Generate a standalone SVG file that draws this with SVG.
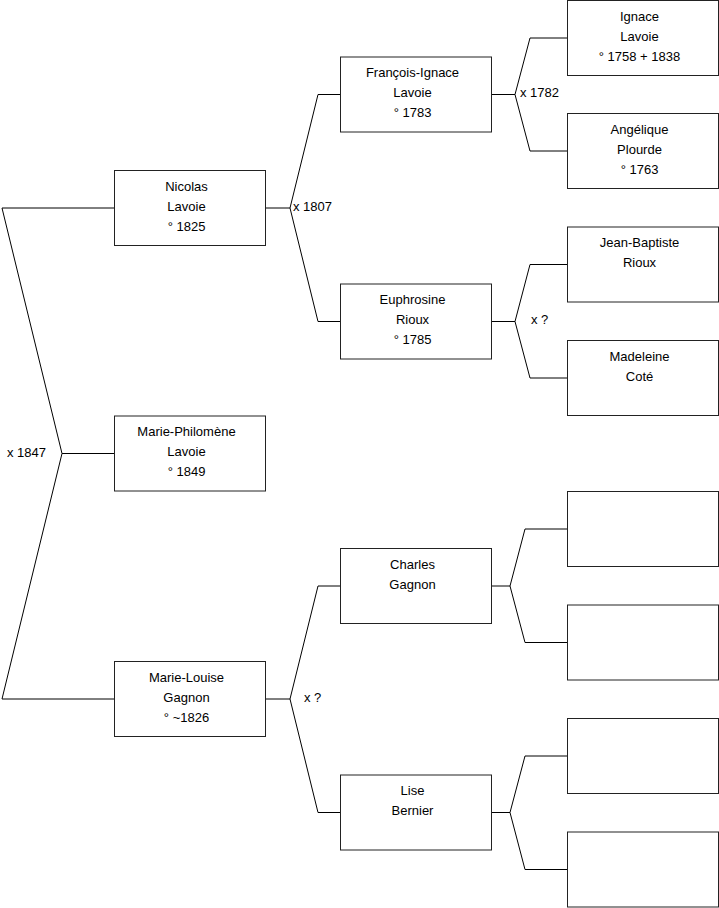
<svg xmlns="http://www.w3.org/2000/svg" width="719" height="908" viewBox="0 0 719 908">
<style>
.box{fill:#fff;stroke:#222;stroke-width:1}
.t{font-family:"Liberation Sans",Arial,sans-serif;font-size:13px;fill:#000;text-anchor:middle}
.l{font-family:"Liberation Sans",Arial,sans-serif;font-size:13px;fill:#000}
.c{fill:none;stroke:#000;stroke-width:1}
</style>
<rect width="719" height="908" fill="#fff"/>
<g id="connectors">
<polyline class="c" points="114.5,208 2,208 62,453.5 2,699 114.5,699"/>
<line class="c" x1="62" y1="453.5" x2="114.5" y2="453.5"/>
<line class="c" x1="265.5" y1="208" x2="290" y2="208"/>
<polyline class="c" points="340.5,94.5 318,94.5 290,208 318,321.5 340.5,321.5"/>
<line class="c" x1="265.5" y1="699" x2="290" y2="699"/>
<polyline class="c" points="340.5,586 318,586 290,699 318,812.5 340.5,812.5"/>
<line class="c" x1="491.5" y1="94.5" x2="515" y2="94.5"/>
<polyline class="c" points="567.5,38 530,38 515,94.5 530,151 567.5,151"/>
<line class="c" x1="491.5" y1="321.5" x2="515" y2="321.5"/>
<polyline class="c" points="567.5,264.5 530,264.5 515,321.5 530,378 567.5,378"/>
<line class="c" x1="491.5" y1="586" x2="510" y2="586"/>
<polyline class="c" points="567.5,529 525,529 510,586 525,642.5 567.5,642.5"/>
<line class="c" x1="491.5" y1="812.5" x2="510" y2="812.5"/>
<polyline class="c" points="567.5,756 525,756 510,812.5 525,869.5 567.5,869.5"/>
<text class="l" x="7" y="456.5">x 1847</text>
<text class="l" x="293" y="211">x 1807</text>
<text class="l" x="304" y="702">x ?</text>
<text class="l" x="520" y="96.5">x 1782</text>
<text class="l" x="531" y="324">x ?</text>
</g>
<g id="nicolas">
<rect class="box" x="114.5" y="170.5" width="151" height="75"/>
<text class="t" x="186.5" y="190.5">Nicolas</text>
<text class="t" x="186.5" y="210.5">Lavoie</text>
<text class="t" x="186.5" y="230.5">° 1825</text>
</g>
<g id="marie-philomene">
<rect class="box" x="114.5" y="416" width="151" height="75"/>
<text class="t" x="186.5" y="436">Marie-Philomène</text>
<text class="t" x="186.5" y="456">Lavoie</text>
<text class="t" x="186.5" y="476">° 1849</text>
</g>
<g id="marie-louise">
<rect class="box" x="114.5" y="661.5" width="151" height="75"/>
<text class="t" x="186.5" y="681.5">Marie-Louise</text>
<text class="t" x="186.5" y="701.5">Gagnon</text>
<text class="t" x="186.5" y="721.5">° ~1826</text>
</g>
<g id="francois-ignace">
<rect class="box" x="340.5" y="57" width="151" height="75"/>
<text class="t" x="412.5" y="77">François-Ignace</text>
<text class="t" x="412.5" y="97">Lavoie</text>
<text class="t" x="412.5" y="117">° 1783</text>
</g>
<g id="euphrosine">
<rect class="box" x="340.5" y="284" width="151" height="75"/>
<text class="t" x="412.5" y="304">Euphrosine</text>
<text class="t" x="412.5" y="324">Rioux</text>
<text class="t" x="412.5" y="344">° 1785</text>
</g>
<g id="charles">
<rect class="box" x="340.5" y="548.5" width="151" height="75"/>
<text class="t" x="412.5" y="568.5">Charles</text>
<text class="t" x="412.5" y="588.5">Gagnon</text>
</g>
<g id="lise">
<rect class="box" x="340.5" y="775" width="151" height="75"/>
<text class="t" x="412.5" y="795">Lise</text>
<text class="t" x="412.5" y="815">Bernier</text>
</g>
<g id="ignace">
<rect class="box" x="567.5" y="0.5" width="151" height="75"/>
<text class="t" x="639.5" y="20.5">Ignace</text>
<text class="t" x="639.5" y="40.5">Lavoie</text>
<text class="t" x="639.5" y="60.5">° 1758 + 1838</text>
</g>
<g id="angelique">
<rect class="box" x="567.5" y="113.5" width="151" height="75"/>
<text class="t" x="639.5" y="133.5">Angélique</text>
<text class="t" x="639.5" y="153.5">Plourde</text>
<text class="t" x="639.5" y="173.5">° 1763</text>
</g>
<g id="jean-baptiste">
<rect class="box" x="567.5" y="227" width="151" height="75"/>
<text class="t" x="639.5" y="247">Jean-Baptiste</text>
<text class="t" x="639.5" y="267">Rioux</text>
</g>
<g id="madeleine">
<rect class="box" x="567.5" y="340.5" width="151" height="75"/>
<text class="t" x="639.5" y="360.5">Madeleine</text>
<text class="t" x="639.5" y="380.5">Coté</text>
</g>
<g id="empty1"><rect class="box" x="567.5" y="491.5" width="151" height="75"/></g>
<g id="empty2"><rect class="box" x="567.5" y="605" width="151" height="75"/></g>
<g id="empty3"><rect class="box" x="567.5" y="718.5" width="151" height="75"/></g>
<g id="empty4"><rect class="box" x="567.5" y="832" width="151" height="75"/></g>
</svg>
